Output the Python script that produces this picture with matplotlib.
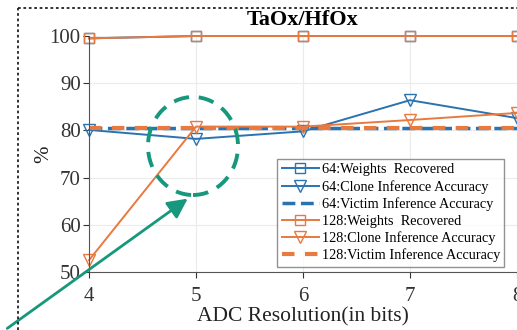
import matplotlib
matplotlib.use('Agg')
import numpy as np
from matplotlib import pyplot as plt
from matplotlib.patches import Ellipse, FancyArrowPatch
from matplotlib.lines import Line2D

## dados
bits = [4, 5, 6, 7, 8]
w64 = [99.5, 100, 100, 100, 100]
clone64 = [80.1, 78.2, 79.8, 86.4, 82.6]
victim64 = [80.5, 80.5, 80.5, 80.5, 80.5]
w128 = [99.5, 100, 100, 100, 100]
clone128 = [52.5, 80.8, 80.8, 82.2, 83.7]
victim128 = [80.6, 80.6, 80.6, 80.6, 80.6]

azul = '#2a73b0'
laranja = '#e8793f'
verde = '#17977c'

plt.rcParams['font.family'] = ['Liberation Serif', 'DejaVu Serif']

fig = plt.figure(figsize=(5.17, 3.30), dpi=100)
ax = fig.add_axes([89/517, 1-272/330, 1-89/517, (272-36)/330])

ax.plot(bits, w64, '-s', color=azul, mfc='none', ms=7, lw=1.4, clip_on=False, label='64:Weights  Recovered')
ax.plot(bits, clone64, '-v', color=azul, mfc='none', ms=8, lw=1.4, clip_on=False, label='64:Clone Inference Accuracy')
ax.plot(bits, victim64, '--', color=azul, lw=2.5, label='64:Victim Inference Accuracy')
ax.plot(bits, w128, '-s', color=laranja, mfc='none', ms=7, lw=1.4, clip_on=False, label='128:Weights  Recovered')
ax.plot(bits, clone128, '-v', color=laranja, mfc='none', ms=8, lw=1.4, clip_on=False, label='128:Clone Inference Accuracy')
ax.plot(bits, victim128, '--', color=laranja, lw=3, dashes=(3, 2.5), label='128:Victim Inference Accuracy')

ax.set_xlim(4, 8)
ax.set_ylim(50, 100)
ax.set_xticks(bits)
ax.set_yticks([50, 60, 70, 80, 90, 100])
ax.grid(True, color='#ebebeb', lw=0.8)
for s in ['top', 'right']:
    ax.spines[s].set_visible(False)
for s in ['left', 'bottom']:
    ax.spines[s].set_color('#555555')
ax.tick_params(labelsize=15, colors='#333333', length=4, width=0.8)
ax.tick_params(axis='x', pad=7)
ax.tick_params(axis='y', pad=2)
ax.set_xlabel('ADC Resolution(in bits)', fontsize=15.5, color='#222222', labelpad=1)
ax.set_ylabel('%', fontsize=15, color='#222222')
ax.yaxis.set_label_coords(-0.084, 0.5)
ax.set_title('TaOx/HfOx', fontsize=16, fontweight='bold', pad=8)

leg = ax.legend(loc='lower right', bbox_to_anchor=(0.98, 0.005), fontsize=10.3, frameon=True,
                fancybox=False, edgecolor='#777777', handlelength=2.6, handletextpad=0.2,
                borderpad=0.3, labelspacing=0.25, borderaxespad=0.3)
leg.get_frame().set_linewidth(1.0)

## moldura tracejada
fig.add_artist(Line2D([18/517, 1], [1-8/330, 1-8/330], transform=fig.transFigure,
                      color='#222222', lw=1.3, ls=(0, (1.5, 1.5))))
fig.add_artist(Line2D([18/517, 18/517], [0, 1-8/330], transform=fig.transFigure,
                      color='#222222', lw=1.3, ls=(0, (1.5, 1.5))))

## destaque verde
fig.add_artist(Ellipse((193/517, 1-146/330), 90/517, 98/330, transform=fig.transFigure,
                       fill=False, ec=verde, lw=2.8, ls=(0, (4, 2.5))))
fig.add_artist(FancyArrowPatch((5/517, 0), (190/517, 1-197/330), transform=fig.transFigure,
                               arrowstyle='-|>,head_length=8,head_width=4', color=verde,
                               lw=2, mutation_scale=1.5))

fig.savefig('out.png', dpi=100)
